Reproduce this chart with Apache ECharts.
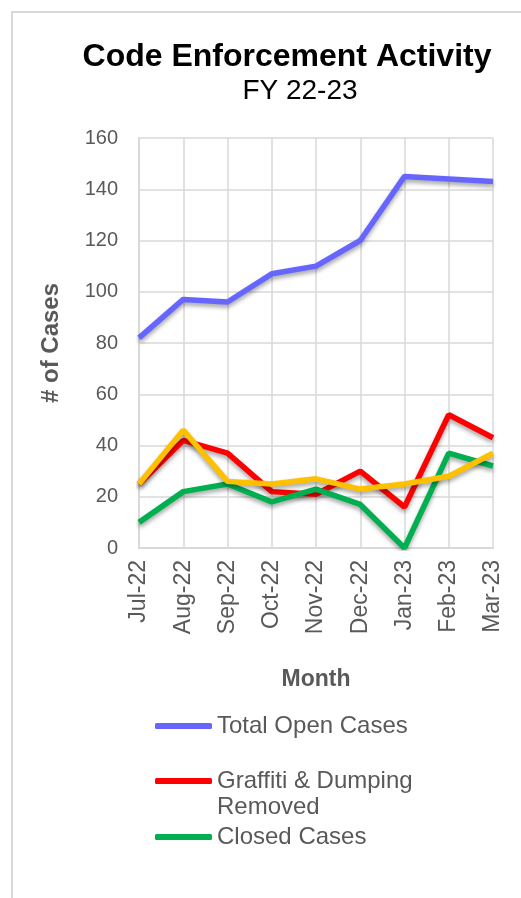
<!DOCTYPE html>
<html lang="en">
  <head>
    <meta charset="utf-8" />
    <title>Code Enforcement Activity</title>
    <style>
      html, body { margin: 0; padding: 0; background: #fff; }
      #main { width: 521px; height: 898px; }
    </style>
  </head>
  <body>
    <div id="main"></div>
    <script src="https://cdn.jsdelivr.net/npm/echarts@6/dist/echarts.min.js"></script>
    <script>
      const months = ['Jul-22', 'Aug-22', 'Sep-22', 'Oct-22', 'Nov-22', 'Dec-22', 'Jan-23', 'Feb-23', 'Mar-23'];
      const totalOpen = [82, 97, 96, 107, 110, 120, 145, 144, 143];
      const graffiti = [25, 42, 37, 22, 21, 30, 16, 52, 43];
      const closed = [10, 22, 25, 18, 23, 17, 0, 37, 32];
      const newCases = [25, 46, 26, 25, 27, 23, 25, 28, 37];

      const font = '"Liberation Sans", Arial, sans-serif';
      const grey = '#595959';

      function line(name, data, color) {
        return {
          name: name,
          type: 'line',
          data: data,
          symbol: 'none',
          z: 3,
          lineStyle: {
            color: color,
            width: 5.5,
            shadowColor: 'rgba(0,0,0,0.35)',
            shadowBlur: 4,
            shadowOffsetY: 3
          },
          itemStyle: { color: color }
        };
      }

      // one legend per item so each can sit exactly where it does in the picture
      function legend(name, top) {
        return {
          data: [name],
          orient: 'vertical',
          left: 155,
          top: top,
          padding: 0,
          icon: 'roundRect',
          itemWidth: 57,
          itemHeight: 6,
          itemGap: 0,
          textStyle: { fontFamily: font, fontSize: 24, color: grey, lineHeight: 26 }
        };
      }

      let chart = echarts.init(document.getElementById('main'));
      let option = {
        backgroundColor: '#fff',
        animation: false,
        title: [{
          text: 'Code Enforcement Activity',
          left: 282,
          top: 36,
          textAlign: 'center',
          textStyle: { fontFamily: font, fontSize: 32, fontWeight: 'bold', color: '#000' }
        }, {
          text: 'FY 22-23',
          left: 295,
          top: 72,
          textAlign: 'center',
          textStyle: { fontFamily: font, fontSize: 28, fontWeight: 'normal', color: '#000' }
        }],
        legend: [
          legend('Total Open Cases', 713),
          legend('Graffiti & Dumping Removed', 742),
          legend('Closed Cases', 824)
        ],
        grid: { left: 139, right: 28, top: 138, bottom: 350 },
        xAxis: {
          type: 'category',
          data: months,
          boundaryGap: false,
          name: 'Month',
          nameLocation: 'middle',
          nameGap: 120,
          nameTextStyle: { fontFamily: font, fontSize: 23, fontWeight: 'bold', color: grey },
          axisLine: { lineStyle: { color: '#d9d9d9', width: 2 } },
          axisTick: { show: false },
          axisLabel: { rotate: 90, margin: 12, fontFamily: font, fontSize: 23, color: grey, interval: 0 },
          splitLine: { show: true, lineStyle: { color: '#d9d9d9', width: 1.5 } }
        },
        yAxis: {
          type: 'value',
          min: 0,
          max: 160,
          interval: 20,
          name: '# of Cases',
          nameLocation: 'middle',
          nameGap: 76,
          nameRotate: 90,
          nameTextStyle: { fontFamily: font, fontSize: 24, fontWeight: 'bold', color: grey },
          axisLine: { show: true, lineStyle: { color: '#d9d9d9', width: 2 } },
          axisTick: { show: false },
          axisLabel: { margin: 21, fontFamily: font, fontSize: 20, color: grey },
          splitLine: { lineStyle: { color: '#d9d9d9', width: 1.5 } }
        },
        graphic: [{
          type: 'rect',
          shape: { x: 12, y: 12, width: 700, height: 1000 },
          style: { fill: null, stroke: '#d9d9d9', lineWidth: 2 },
          silent: true,
          z: -1
        }],
        series: [
          line('Total Open Cases', totalOpen, '#6666FF'),
          line('Graffiti & Dumping Removed', graffiti, '#FF0000'),
          line('Closed Cases', closed, '#00B050'),
          line('New Cases', newCases, '#FFC000')
        ]
      };
      // blank first line keeps the icon level with the first text line
      option.legend[1].formatter = function () { return ' \nGraffiti & Dumping\nRemoved'; };
      chart.setOption(option);
    </script>
  </body>
</html>
